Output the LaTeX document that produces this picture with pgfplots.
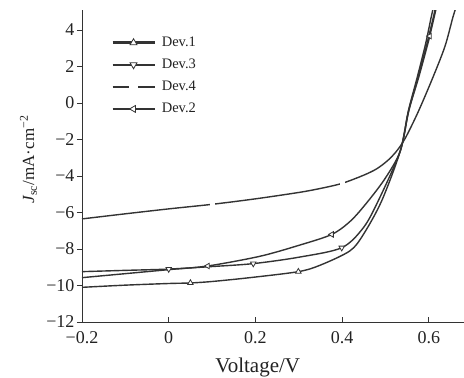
\documentclass[border=0pt]{standalone}
\usepackage{pgfplots}
\pgfplotsset{compat=1.18}
\usepackage{fontspec}
\setmainfont{Liberation Serif}
\definecolor{curve}{HTML}{333333}
\definecolor{txt}{HTML}{222222}
\pgfplotsset{
  mylegend/.style={legend image code/.code={\draw[mark repeat=2,mark phase=2,##1] plot coordinates {(0pt,0pt) (21pt,0pt) (42pt,0pt)};}},
}
\begin{document}
\begin{tikzpicture}
\begin{axis}[
  scale only axis, width=382pt, height=312pt,
  xmin=-0.2, xmax=0.681, ymin=-12, ymax=5.1,
  axis x line=bottom, axis y line=left,
  axis line style={-, line width=0.8pt, color=curve},
  xtick={-0.2,0,0.2,0.4,0.6},
  xticklabels={−0.2,0,0.2,0.4,0.6},
  ytick={-12,-10,-8,-6,-4,-2,0,2,4},
  yticklabels={−12,−10,−8,−6,−4,−2,0,2,4},
  tick align=inside,
  major tick length=5pt,
  tick style={line width=0.8pt, color=curve},
  y tick style={xshift=-5pt},
  ticklabel style={font=\fontsize{18}{20}\selectfont, text=txt},
  xticklabel style={yshift=-6pt},
  yticklabel style={xshift=-4pt},
  xlabel={Voltage/V},
  ylabel={\textit{J}\textsubscript{sc}/mA·cm\textsuperscript{−2}},
  xlabel style={font=\fontsize{21}{24}\selectfont, text=txt, at={(axis description cs:0.46,-0.145)}, anchor=center},
  ylabel style={font=\fontsize{17}{20}\selectfont, text=txt, at={(axis description cs:-0.14,0.52)}, anchor=center},
  legend style={draw=none, fill=none, at={(axis description cs:0.076,0.92)}, anchor=north west,
    font=\fontsize{14.5}{16}\selectfont, text=txt, inner sep=0pt, row sep=7pt,
    nodes={inner xsep=6pt}},
  legend cell align=left,
  mylegend,
  clip=true,
]
% legend images
\addlegendimage{curve, line width=2.6pt, mark=triangle*, mark size=4pt, mark options={fill=white, line width=0.8pt, solid}}
\addlegendentry{Dev.1}
\addlegendimage{curve, line width=2pt, mark=triangle*, mark size=4pt, mark options={fill=white, line width=0.8pt, rotate=180, solid}}
\addlegendentry{Dev.3}
\addlegendimage{curve, line width=2pt, mark=square*, mark size=3.2pt, mark options={fill=white, draw=white, solid}}
\addlegendentry{Dev.4}
\addlegendimage{curve, line width=2.6pt, mark=triangle*, mark size=4pt, mark options={fill=white, line width=0.8pt, rotate=90, solid}}
\addlegendentry{Dev.2}

% Dev.4 (top)
\addplot[curve, line width=1.4pt, smooth, forget plot] coordinates {
(-0.2,-6.35) (-0.1,-6.07) (0,-5.8) (0.1,-5.55) (0.2,-5.25) (0.3,-4.9) (0.35,-4.68) (0.4,-4.4)
(0.45,-3.95) (0.48,-3.6) (0.505,-3.15) (0.525,-2.65) (0.545,-1.95) (0.575,-0.5) (0.609,1.39) (0.637,3.1) (0.655,4.67) (0.662,5.2)};
\addplot[curve, only marks, mark=square*, mark size=2pt, mark options={fill=white, draw=white}, forget plot] coordinates {(0.1,-5.55) (0.4,-4.4)};

% Dev.1 (bottom)
\addplot[curve, line width=1.4pt, smooth, forget plot] coordinates {
(-0.2,-10.1) (-0.1,-9.98) (0,-9.89) (0.05,-9.86) (0.1,-9.78) (0.187,-9.57) (0.299,-9.24) (0.35,-8.88)
(0.418,-8.1) (0.449,-7.2) (0.491,-5.37) (0.534,-2.63) (0.552,-0.5) (0.573,1.4) (0.592,3.2) (0.605,4.67) (0.61,5.2)};
\addplot[curve, only marks, mark=triangle*, mark size=3.2pt, mark options={fill=white, line width=0.8pt}, forget plot] coordinates {(0.05,-9.86) (0.299,-9.24)};

% Dev.3
\addplot[curve, line width=1.4pt, smooth, forget plot] coordinates {
(-0.2,-9.24) (-0.1,-9.17) (0,-9.1) (0.1,-8.96) (0.195,-8.8) (0.3,-8.45) (0.399,-7.93) (0.449,-6.83)
(0.483,-5.37) (0.534,-2.63) (0.553,-0.45) (0.575,1.4) (0.595,3.2) (0.61,4.67) (0.615,5.2)};
\addplot[curve, only marks, mark=triangle*, mark size=3.2pt, mark options={fill=white, line width=0.8pt, rotate=180}, forget plot] coordinates {(0,-9.1) (0.195,-8.8) (0.399,-7.93)};

% Dev.2
\addplot[curve, line width=1.4pt, smooth, forget plot] coordinates {
(-0.2,-9.57) (-0.1,-9.35) (0,-9.13) (0.09,-8.93) (0.21,-8.4) (0.3,-7.8) (0.376,-7.2) (0.42,-6.45)
(0.46,-5.37) (0.5,-4.1) (0.534,-2.63) (0.554,-0.4) (0.577,1.45) (0.597,3.2) (0.602,3.67) (0.614,4.9) (0.618,5.3)};
\addplot[curve, only marks, mark=triangle*, mark size=3.2pt, mark options={fill=white, line width=0.8pt, rotate=90}, forget plot] coordinates {(0.09,-8.93) (0.376,-7.2) (0.602,3.67)};
\end{axis}
\pgfresetboundingbox
\path (-82pt,-56pt) rectangle (382pt,322pt);
\end{tikzpicture}
\end{document}
